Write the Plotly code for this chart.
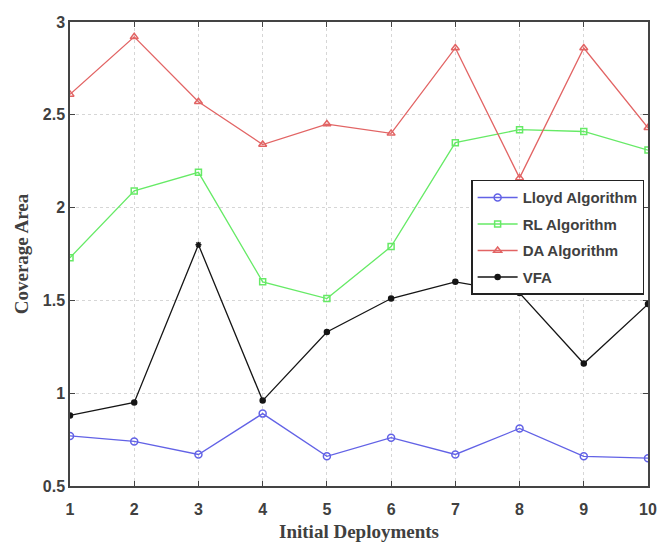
import plotly.graph_objects as go

deployments = [1, 2, 3, 4, 5, 6, 7, 8, 9, 10]
lloyd = [0.77, 0.74, 0.67, 0.89, 0.66, 0.76, 0.67, 0.81, 0.66, 0.65]
rl = [1.73, 2.09, 2.19, 1.60, 1.51, 1.79, 2.35, 2.42, 2.41, 2.31]
da = [2.61, 2.92, 2.57, 2.34, 2.45, 2.40, 2.86, 2.16, 2.86, 2.43]
vfa = [0.88, 0.95, 1.80, 0.96, 1.33, 1.51, 1.60, 1.54, 1.16, 1.48]
y_ticks = [0.5, 1, 1.5, 2, 2.5, 3]
y_tick_labels = ["0.5", "1", "1.5", "2", "2.5", "3"]

series = [
    ("Lloyd Algorithm", lloyd, "#6262e6", "circle-open", 7),
    ("RL Algorithm", rl, "#66ea66", "square-open", 6),
    ("DA Algorithm", da, "#e26464", "triangle-up-open", 7),
    ("VFA", vfa, "#151515", "circle", 5),
]

fig = go.Figure()
for name, vals, color, sym, size in series:
    symbols = sym
    if name == "VFA":
        symbols = ["circle", "circle", "asterisk-open", "circle", "circle",
                   "circle", "circle", "circle", "circle", "circle"]
    fig.add_trace(go.Scatter(
        x=deployments, y=vals, name=name, mode="lines+markers",
        legendgroup=name,
        line=dict(color=color, width=1.3),
        marker=dict(symbol=symbols, size=size, color=color,
                    line=dict(color=color, width=1.5)),
    ))

axis_common = dict(
    showline=True, linecolor="#444444", linewidth=1.5, mirror="ticks",
    ticks="inside", ticklen=5, tickcolor="#444444",
    showgrid=True, gridcolor="#d6d6d6", griddash="dot", gridwidth=1,
    zeroline=False, automargin=False,
    tickfont=dict(family="Liberation Sans", size=16, color="#404040",
                  weight="bold"),
)

fig.update_xaxes(
    range=[1, 10], tickvals=deployments, ticktext=[str(d) for d in deployments],
    ticklabelstandoff=8,
    title=dict(text="Initial Deployments", standoff=8,
               font=dict(family="Liberation Serif", size=19, color="#404040",
                         weight="bold")),
    **axis_common,
)
fig.update_yaxes(
    range=[0.5, 3], tickvals=y_ticks, ticktext=y_tick_labels,
    title=dict(text="Coverage Area", standoff=9,
               font=dict(family="Liberation Serif", size=19, color="#404040",
                         weight="bold")),
    **axis_common,
)

fig.update_layout(
    width=661, height=545,
    margin=dict(l=70, r=13, t=22, b=59),
    paper_bgcolor="white", plot_bgcolor="white",
    showlegend=True,
    legend=dict(
        x=0.694, y=0.660, xanchor="left", yanchor="top",
        bgcolor="white", bordercolor="#222222", borderwidth=1.5,
        font=dict(family="Liberation Sans", size=15, color="#404040",
                  weight="bold"),
        tracegroupgap=4, itemwidth=40,
    ),
)

fig.write_html("out.html", config={"displayModeBar": False},
               post_script="document.body.style.margin='0px';")
